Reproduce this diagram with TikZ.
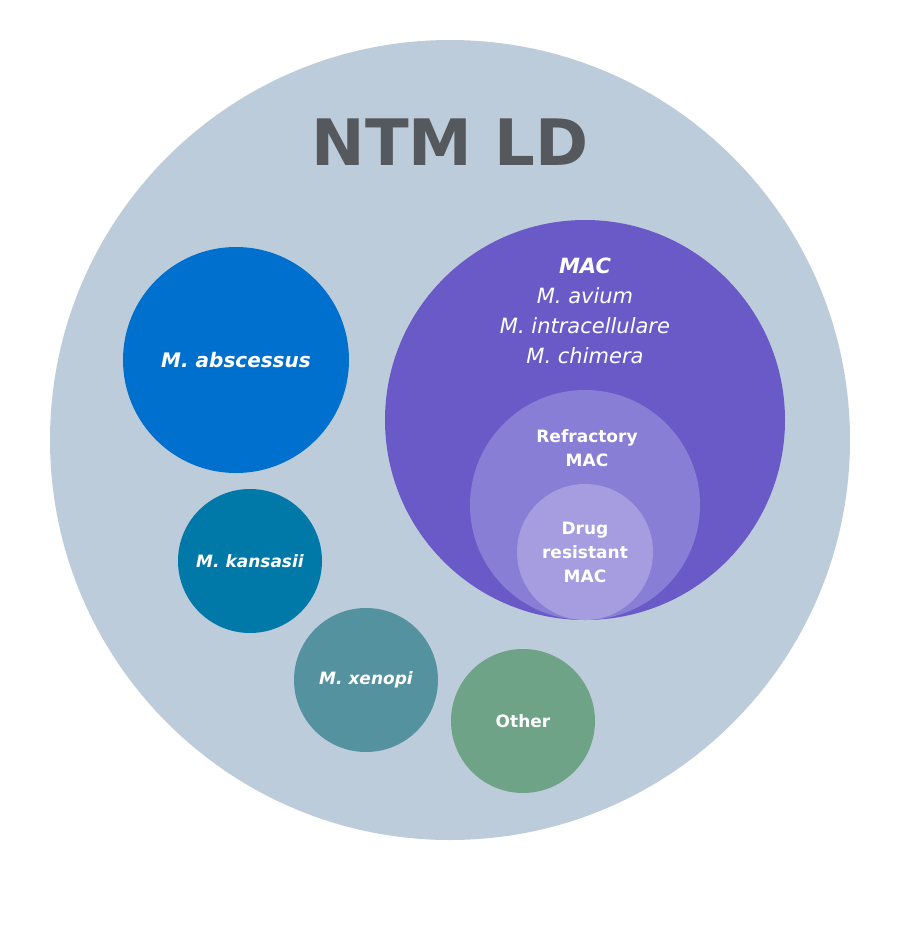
\documentclass[tikz,border=0pt]{standalone}
\usepackage{fontspec}
\setmainfont{DejaVu Sans}
\begin{document}
\begin{tikzpicture}[x=1pt,y=-1pt,
  circ/.style={circle,inner sep=0pt,draw=none},
  lbl/.style={text=white,align=center}]
\useasboundingbox (0,0) rectangle (900,940);
\definecolor{bigc}{HTML}{BDCCDA}
\definecolor{macc}{HTML}{6A5AC8}
\definecolor{refc}{HTML}{897ED5}
\definecolor{drc}{HTML}{A69DE0}
\definecolor{absc}{HTML}{0070CE}
\definecolor{kanc}{HTML}{0078A8}
\definecolor{xenc}{HTML}{5592A0}
\definecolor{othc}{HTML}{6FA388}
\definecolor{titc}{HTML}{55585C}
\node[circ,fill=bigc,minimum size=800pt] (ntm) at (450,440) {};
\node[font=\bfseries\fontsize{64}{64}\selectfont,text=titc] (title) at (450,142) {NTM LD};
\node[circ,fill=macc,minimum size=400pt] (mac) at (585,420) {};
\node[circ,fill=refc,minimum size=230pt] (ref) at (585,505) {};
\node[circ,fill=drc,minimum size=136pt] (dr) at (585,552) {};
\node[lbl,font=\fontsize{21}{30}\selectfont] (mact) at (585,311) {\textbf{\textit{MAC}}\\\textit{M. avium}\\\textit{M. intracellulare}\\\textit{M. chimera}};
\node[lbl,font=\bfseries\fontsize{17}{24}\selectfont] (reft) at (587,448) {Refractory\\MAC};
\node[lbl,font=\bfseries\fontsize{17}{24}\selectfont] (drt) at (585,552) {Drug\\resistant\\MAC};
\node[circ,fill=absc,minimum size=226pt] (abs) at (236,360) {};
\node[lbl,font=\bfseries\itshape\fontsize{20}{20}\selectfont] at (abs) {M. abscessus};
\node[circ,fill=kanc,minimum size=144pt] (kan) at (250,561) {};
\node[lbl,font=\bfseries\itshape\fontsize{17}{17}\selectfont] at (kan) {M. kansasii};
\node[circ,fill=xenc,minimum size=144pt] (xen) at (366,680) {};
\node[lbl,font=\bfseries\itshape\fontsize{17}{17}\selectfont] at (xen) {M. xenopi};
\node[circ,fill=othc,minimum size=144pt] (oth) at (523,721) {};
\node[lbl,font=\bfseries\fontsize{17}{17}\selectfont] at (oth) {Other};
\end{tikzpicture}
\end{document}
